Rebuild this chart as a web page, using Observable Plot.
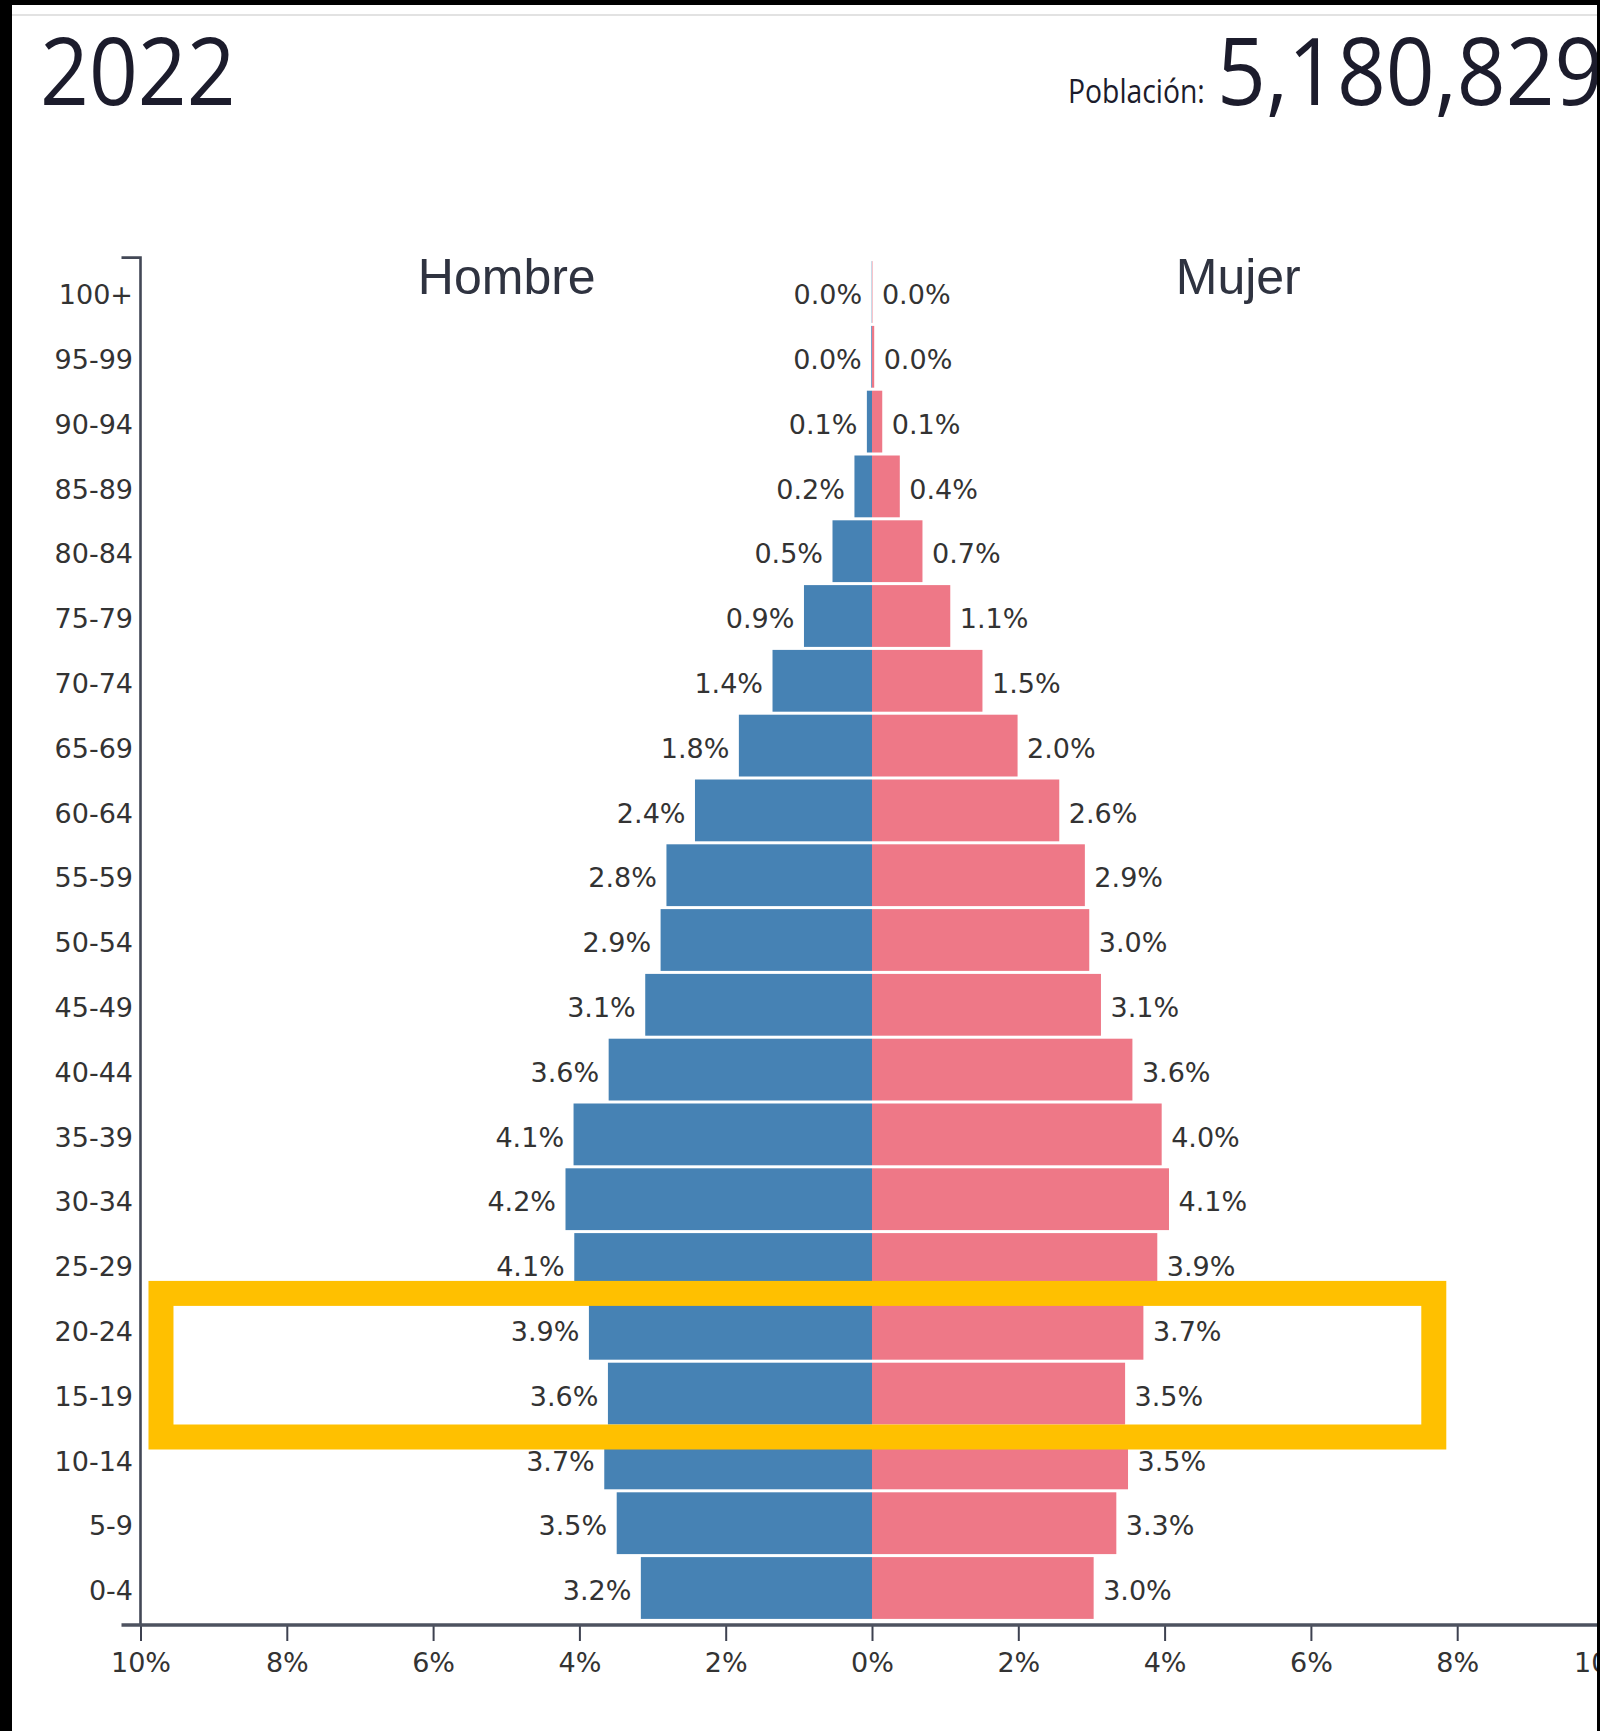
<!DOCTYPE html>
<html>
<head>
<meta charset="utf-8">
<script src="https://cdn.jsdelivr.net/npm/d3@7"></script>
<script src="https://cdn.jsdelivr.net/npm/@observablehq/plot@0.6"></script>
<style>
  html, body { margin: 0; padding: 0; background: #fff; overflow: hidden; }
  #wrap { position: relative; width: 1600px; height: 1731px; overflow: hidden; background: #fff; }
  #header { position: absolute; left: 0; top: 0; }
  #chart { position: absolute; left: 0; top: 200px; width: 1620px; }
  #chart svg { max-width: none !important; }
  .bd { position: absolute; background: #000; z-index: 5; }
  #shadow { position: absolute; left: 12px; right: 3px; top: 14px; height: 2px; background: #e2e2e2; z-index: 4; }
</style>
</head>
<body>
<div id="wrap">
  <svg id="header" width="1600" height="200" xmlns="http://www.w3.org/2000/svg">
    <text id="year" transform="translate(40,105) scale(0.9,0.98)" font-family="Open Sans" font-size="95" fill="#1c1c2c"></text>
    <text id="poplabel" transform="translate(1068,103) scale(0.885,1)" font-family="Open Sans" font-size="32" fill="#1c1c2c"></text>
    <text id="popvalue" transform="translate(1217,105) scale(0.9,0.98)" font-family="Open Sans" font-size="95" fill="#1c1c2c"></text>
  </svg>
  <div id="chart"></div>
  <div id="shadow"></div>
  <div class="bd" style="left:0;top:0;width:1600px;height:5px"></div>
  <div class="bd" style="left:0;top:0;width:12px;height:1731px"></div>
  <div class="bd" style="right:0;top:0;width:3px;height:1731px"></div>
</div>
<script>
// ---- Data ----
const year = "2022";
const populationLabel = "Población:";
const population = 5180829;
const ageGroups = ["100+","95-99","90-94","85-89","80-84","75-79","70-74","65-69","60-64","55-59","50-54","45-49","40-44","35-39","30-34","25-29","20-24","15-19","10-14","5-9","0-4"];
const hombre = [0.004,0.01,0.07,0.24,0.54,0.93,1.36,1.82,2.42,2.81,2.89,3.10,3.60,4.08,4.19,4.07,3.87,3.61,3.66,3.49,3.16];
const mujer  = [0.006,0.03,0.14,0.38,0.69,1.07,1.51,1.99,2.56,2.91,2.97,3.13,3.56,3.96,4.06,3.90,3.71,3.46,3.50,3.34,3.03];
const sexLabels = [{x: -5, label: "Hombre"}, {x: 5, label: "Mujer"}];
const xTicks = [-10,-8,-6,-4,-2,0,2,4,6,8,10];
const highlight = {from: "20-24", to: "15-19", x1: -9.72, x2: 7.68};

// ---- Header ----
document.getElementById("year").textContent = year;
document.getElementById("poplabel").textContent = populationLabel;
document.getElementById("popvalue").textContent = d3.format(",")(population);

// ---- Chart ----
const rows = ageGroups.map((age, i) => ({age, hombre: hombre[i], mujer: mujer[i]}));
const fmt = v => v.toFixed(1) + "%";
const BLUE = "#4682b4", PINK = "#ee7887", TXT = "#333";
const FONT = "DejaVu Sans";
const FS = 27;

const axisLines = (index, {x}, values, {height, marginTop, marginBottom}) => {
  const x0 = x(-10), x1 = x(10), yt = marginTop, yb = height - marginBottom;
  const g = d3.create("svg:g");
  g.append("path").attr("d", `M${x0 - 19},${yt}H${x0}V${yb}`)
    .attr("fill", "none").attr("stroke", "#434856").attr("stroke-width", 2.6);
  g.append("path").attr("d", `M${x0 - 19},${yb}H${x1}`)
    .attr("fill", "none").attr("stroke", "#4d525f").attr("stroke-width", 3.4);
  return g.node();
};

const highlightBox = (index, {x, y}) => {
  const bw = y.bandwidth ? y.bandwidth() : 0;
  const top = y(highlight.from) - 3;
  const bottom = y(highlight.to) + bw + 11;
  return d3.create("svg:rect")
    .attr("x", x(highlight.x1)).attr("y", top)
    .attr("width", x(highlight.x2) - x(highlight.x1)).attr("height", bottom - top)
    .attr("fill", "none").attr("stroke", "#FFC000").attr("stroke-width", 25)
    .node();
};

const chart = Plot.plot({
  width: 1620,
  height: 1531,
  marginLeft: 140.5,
  marginRight: 16.5,
  marginTop: 57.6,
  marginBottom: 106,
  style: {fontFamily: FONT, background: "transparent", overflow: "visible", color: TXT, maxWidth: "none"},
  x: {domain: [-10, 10], label: null},
  y: {domain: ageGroups, label: null, padding: 0, round: false, insetTop: 2, insetBottom: 4.6},
  marks: [
    Plot.barX(rows, {y: "age", x1: 0, x2: d => -d.hombre, fill: BLUE, insetTop: 1.5, insetBottom: 1.5}),
    Plot.barX(rows, {y: "age", x1: 0, x2: "mujer", fill: PINK, insetTop: 1.5, insetBottom: 1.5}),
    Plot.text(rows, {y: "age", x: d => -d.hombre, text: d => fmt(d.hombre), textAnchor: "end", dx: -10, dy: 3, fontSize: FS, fill: TXT, fontFamily: FONT}),
    Plot.text(rows, {y: "age", x: "mujer", text: d => fmt(d.mujer), textAnchor: "start", dx: 9, dy: 3, fontSize: FS, fill: TXT, fontFamily: FONT}),
    Plot.text(sexLabels, {x: "x", y: () => ageGroups[0], text: "label", lineAnchor: "bottom", dy: 1, fontSize: 50, fill: "#2f3340", fontFamily: "Liberation Sans"}),
    Plot.axisY({tickSize: 0, tickPadding: 8, fontSize: FS, fontFamily: FONT, fill: TXT, dy: 3, label: null}),
    Plot.axisX({ticks: xTicks, tickFormat: d => Math.abs(d) + "%", tickSize: 16, tickPadding: 11, fontSize: FS, fontFamily: FONT, stroke: "#3d4150", strokeWidth: 2, fill: TXT, label: null}),
    axisLines,
    highlightBox
  ]
});
document.getElementById("chart").appendChild(chart);
</script>
</body>
</html>
